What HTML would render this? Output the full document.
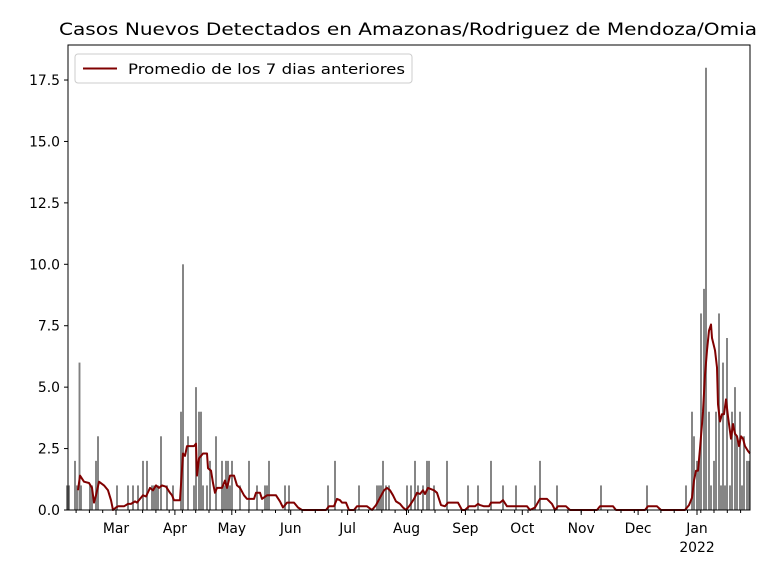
<!DOCTYPE html>
<html><head><meta charset="utf-8"><style>
body{margin:0;background:#fff}
svg{font-family:"DejaVu Sans","Liberation Sans",sans-serif}
</style></head><body>
<svg id="s" width="768" height="576" xmlns="http://www.w3.org/2000/svg">
<rect width="768" height="576" fill="#fff"/>
<g id="bars" fill="#808080"></g>
<polyline id="ln" fill="none" stroke="#800000" stroke-width="2" stroke-linejoin="round"/>
<rect x="68" y="45" width="682" height="465" fill="none" stroke="#000" stroke-width="1"/>
<g id="ax" stroke="#000" stroke-width="1"></g>
<g id="lab" font-size="13.9" fill="#000"></g>
<text x="59" y="35" font-size="16.7" textLength="698" lengthAdjust="spacingAndGlyphs">Casos Nuevos Detectados en Amazonas/Rodriguez de Mendoza/Omia</text>
<rect x="75" y="54" width="337" height="29" rx="3" fill="#fff" fill-opacity="0.8" stroke="#ccc"/>
<line x1="83" y1="68.5" x2="117" y2="68.5" stroke="#800000" stroke-width="2"/>
<text x="128" y="74" font-size="13.9" textLength="277" lengthAdjust="spacingAndGlyphs">Promedio de los 7 dias anteriores</text>
</svg>
<script>
var B=[[67,1],[69,1],[75,2],[77,1],[79.5,6],[81,1],[90,1],[92,1],[96,2],[98,3],[117,1],[128,1],[133,1],[138,1],[143,2],[147,2],[152,1],[154,1],[156,1],[158,1],[161,3],[167,1],[173,1],[181,4],[183,10],[188,3],[194,1],[196,5],[199,4],[201,4],[203,1],[207,1],[210,2],[216,3],[222,2],[224,1],[226,2],[228,2],[230,1],[232,2],[240,1],[249,2],[257,1],[265,1],[267,1],[269,2],[285,1],[289,1],[328,1],[335,2],[359,1],[377,1],[379,1],[381,1],[383,2],[386,1],[389,1],[407,1],[411,1],[415,2],[418,1],[423,1],[427,2],[429,2],[434,1],[447,2],[468,1],[478,1],[491,2],[503,1],[516,1],[535,1],[540,2],[557,1],[601,1],[647,1],[686,1],[692,4],[694,3],[697,2],[699,2],[701,8],[704,9],[706,18],[709,4],[711,1],[714,2],[716,4],[719,8],[721,1],[723,6],[725,1],[727,7],[730,1],[732,4],[735,5],[737,3],[740,4],[742,1],[744,3],[747,2],[749,2]];
var U=24.57,Y0=510,g=document.getElementById('bars'),h='';
B.forEach(function(b){h+='<rect x="'+(b[0]-0.95)+'" y="'+(Y0-b[1]*U)+'" width="1.9" height="'+(b[1]*U)+'"/>';});
g.innerHTML=h;
var L=[78,0.8,80,1.4,84,1.15,89,1.1,92,0.9,94,0.3,96,0.6,99,1.15,104,1,108,0.8,111,0.4,113,0,116,0.1,118,0.15,124,0.15,128,0.25,131,0.25,135,0.35,137,0.3,140,0.45,143,0.6,146,0.55,150,0.9,153,0.8,156,1.0,159,0.9,162,1.0,166,0.95,170,0.7,172,0.6,174,0.4,180,0.4,183,2.3,185,2.2,187,2.6,194,2.6,196,2.7,197,1.4,199,2.1,203,2.3,207,2.3,208,1.7,211,1.6,213,1.1,215,0.7,217,0.9,222,0.9,225,1.2,227,0.9,230,1.4,234,1.4,237,1.0,240,0.9,244,0.6,247,0.45,254,0.45,256,0.7,260,0.7,262,0.45,267,0.6,276,0.6,280,0.35,283,0.1,287,0.3,294,0.3,298,0.1,302,0,326,0,329,0.15,334,0.15,337,0.45,340,0.4,342,0.3,346,0.3,349,0,354,0,357,0.15,367,0.15,372,0,376,0.2,380,0.5,384,0.8,387,0.9,390,0.8,393,0.6,396,0.35,400,0.25,403,0.1,406,0,410,0.2,414,0.45,417,0.7,420,0.65,423,0.8,425,0.65,428,0.9,434,0.8,437,0.7,441,0.2,445,0.15,448,0.3,458,0.3,462,0,465,0,469,0.15,475,0.15,478,0.25,480,0.2,484,0.15,489,0.15,491,0.3,500,0.3,503,0.4,507,0.15,520,0.15,527,0.15,530,0,535,0.1,540,0.45,547,0.45,552,0.25,555,0,558,0.15,566,0.15,570,0,597,0,600,0.15,613,0.15,616,0,645,0,648,0.15,657,0.15,661,0,685,0,689,0.2,692,0.5,694,1.2,696,1.6,698,1.6,700,2.5,703,4,705,5.5,707,6.5,709,7.3,711,7.55,712,7,715,6.5,717,5.8,718,4.3,720,3.6,722,3.9,724,3.9,726,4.5,728,3.8,730,3.2,731,2.9,733,3.5,735,3.1,737,3.0,739,2.6,741,3.0,743,2.9,745,2.6,748,2.4,750,2.3];
var p=[];for(var i=0;i<L.length;i+=2)p.push(L[i]+','+(Y0-L[i+1]*U).toFixed(1));
document.getElementById('ln').setAttribute('points',p.join(' '));
var a='',t='';
for(var v=0;v<=17.5;v+=2.5){var y=Y0-v*U;a+='<line x1="64" x2="68" y1="'+y+'" y2="'+y+'"/>';t+='<text x="60" y="'+(y+5)+'" text-anchor="end">'+v.toFixed(1)+'</text>';}
var d=1.8987;
for(var x=116-13.29*4;x<=751;x+=13.29){if(x>=67.5)a+='<line x1="'+x.toFixed(1)+'" x2="'+x.toFixed(1)+'" y1="510" y2="513"/>';}
var M=[['Mar',0],['Apr',31],['May',61],['Jun',92],['Jul',122],['Aug',153],['Sep',184],['Oct',214],['Nov',245],['Dec',275],['Jan',306]];
M.forEach(function(m){var x=116+m[1]*d;a+='<line x1="'+x.toFixed(1)+'" x2="'+x.toFixed(1)+'" y1="510" y2="515"/>';t+='<text x="'+x.toFixed(1)+'" y="533" text-anchor="middle">'+m[0]+'</text>';});
t+='<text x="697" y="552" text-anchor="middle">2022</text>';
document.getElementById('ax').innerHTML=a;document.getElementById('lab').innerHTML=t;
</script>
</body></html>
